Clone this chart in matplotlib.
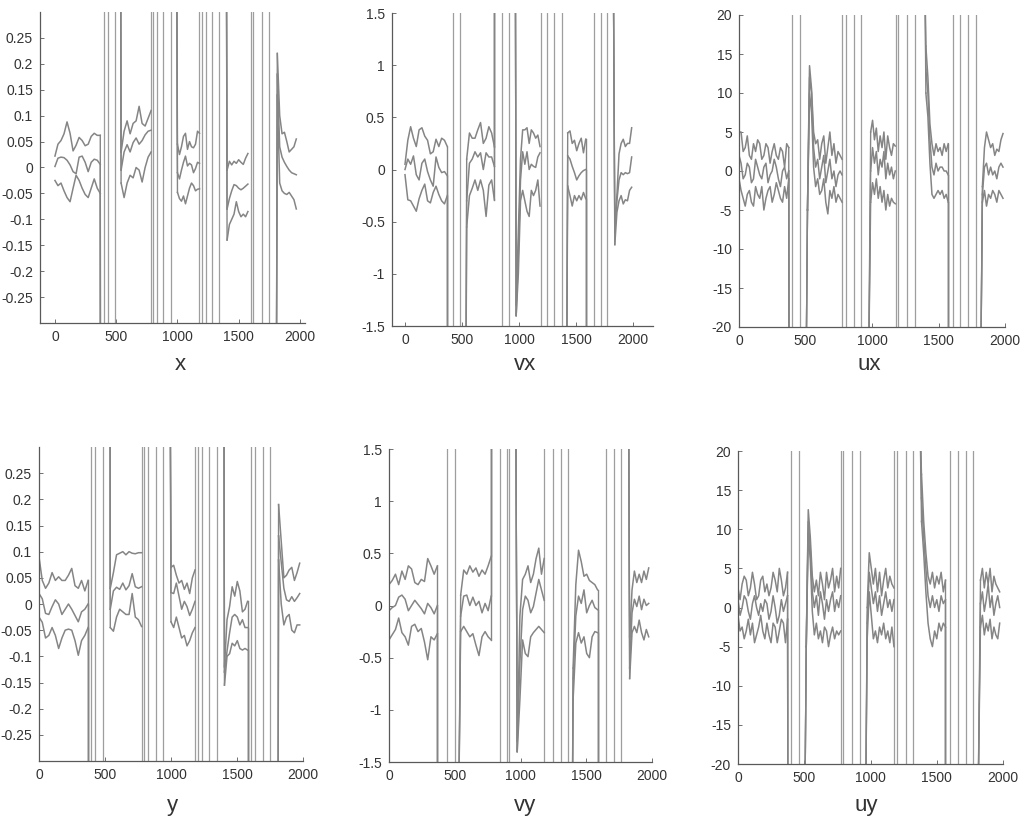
import numpy as np
import matplotlib
matplotlib.use('Agg')
import matplotlib.pyplot as plt
from matplotlib.ticker import FuncFormatter

plt.rcParams['font.family'] = ['Liberation Sans', 'DejaVu Sans']
plt.rcParams['axes.unicode_minus'] = False

# each panel: 5 segments of three traces (upper / mean / lower), sampled evenly
# between seg start and end; enter/exit = point off the axis the trace comes from / goes to;
# vlines = sample indices where the trace shoots across the whole range
x_start = [0, 540, 1000, 1405, 1815]
x_end = [370, 785, 1180, 1575, 1970]
x_upper = [
    [0.022, 0.045, 0.052, 0.065, 0.088, 0.066, 0.032, 0.043, 0.058, 0.052, 0.042, 0.045, 0.06, 0.066, 0.062, 0.062],
    [0.03, 0.07, 0.09, 0.065, 0.085, 0.09, 0.118, 0.085, 0.08, 0.095, 0.11],
    [0.045, 0.025, 0.04, 0.06, 0.066, 0.035, 0.05, 0.04, 0.038, 0.045, 0.07, 0.066],
    [-0.005, 0.012, 0.005, 0.012, 0.008, 0.015, 0.01, 0.006, 0.018, 0.027],
    [0.22, 0.1, 0.065, 0.068, 0.05, 0.03, 0.035, 0.04, 0.055],
]
x_mean = [
    [0.002, 0.018, 0.02, 0.019, 0.014, 0.005, -0.008, -0.012, 0.02, 0.022, 0.01, -0.008, 0.01, 0.016, 0.014, 0.006],
    [-0.005, 0.03, 0.044, 0.03, 0.048, 0.057, 0.045, 0.052, 0.063, 0.07, 0.072],
    [-0.01, -0.022, -0.005, 0.01, 0.022, 0.003, 0.008, 0.005, -0.01, -0.002, 0.01, 0.008],
    [-0.08, -0.06, -0.045, -0.033, -0.035, -0.04, -0.043, -0.04, -0.036, -0.032],
    [0.18, 0.04, 0.02, 0.01, 0.002, -0.005, -0.01, -0.012, -0.014],
]
x_lower = [
    [-0.025, -0.035, -0.03, -0.045, -0.058, -0.066, -0.04, -0.015, -0.025, -0.04, -0.052, -0.058, -0.04, -0.022, -0.04, -0.05],
    [-0.03, -0.058, -0.03, -0.015, -0.02, 0.0, -0.005, -0.028, 0.0, 0.02, 0.03],
    [-0.048, -0.06, -0.065, -0.055, -0.07, -0.055, -0.04, -0.03, -0.035, -0.045, -0.042, -0.041],
    [-0.14, -0.11, -0.1, -0.09, -0.066, -0.085, -0.095, -0.09, -0.095, -0.085],
    [0.14, -0.03, -0.045, -0.05, -0.052, -0.048, -0.055, -0.062, -0.08],
]
x_enter = [None, (531, 1.0), (985, 1.0), (1393, 1.0), (1800, -1.0)]
x_exit = [(373, -1.0), None, None, None, None]
x_vlines = [403, 430, 490, 784, 803, 830, 884, 944, 1178, 1197, 1233, 1279, 1339, 1600, 1619, 1693, 1750]

vx_start = [0, 541, 975, 1427, 1840]
vx_end = [371, 784, 1184, 1585, 1988]
vx_upper = [
    [0.05, 0.28, 0.41, 0.3, 0.22, 0.38, 0.4, 0.32, 0.28, 0.15, 0.17, 0.29, 0.22, 0.3, 0.28, 0.22],
    [0.1, 0.35, 0.3, 0.3, 0.38, 0.45, 0.25, 0.3, 0.41, 0.35, 0.22],
    [-1.3, -0.6, 0.1, 0.38, 0.38, 0.4, 0.25, 0.38, 0.35, 0.3, 0.33, 0.22],
    [0.35, 0.37, 0.25, 0.28, 0.18, 0.25, 0.3, 0.16, 0.29],
    [-0.5, -0.25, 0.15, 0.25, 0.29, 0.22, 0.25, 0.25, 0.4],
]
vx_mean = [
    [0.0, 0.1, 0.05, 0.13, -0.05, -0.1, 0.06, 0.1, -0.02, -0.1, -0.16, 0.12, 0.02, -0.03, -0.02, -0.06],
    [-0.3, 0.06, 0.1, 0.17, 0.12, 0.16, 0.0, 0.16, 0.12, 0.12, 0.03],
    [-1.4, -0.8, -0.1, 0.17, 0.05, 0.17, 0.0, 0.05, 0.03, 0.02, 0.12, 0.16],
    [0.13, 0.1, 0.03, -0.03, -0.1, -0.06, -0.03, -0.01, 0.0],
    [-0.6, -0.3, -0.1, -0.03, -0.05, -0.03, -0.04, -0.03, 0.12],
]
vx_lower = [
    [-0.05, -0.29, -0.3, -0.35, -0.4, -0.28, -0.2, -0.14, -0.3, -0.32, -0.22, -0.16, -0.24, -0.3, -0.33, -0.25],
    [-0.55, -0.25, -0.18, -0.1, -0.2, -0.1, -0.2, -0.45, -0.15, -0.1, -0.29],
    [-1.4, -1.0, -0.3, -0.2, -0.3, -0.4, -0.45, -0.2, -0.25, -0.2, -0.1, -0.35],
    [-0.16, -0.25, -0.35, -0.25, -0.3, -0.25, -0.29, -0.22, -0.28],
    [-0.72, -0.41, -0.3, -0.25, -0.33, -0.29, -0.3, -0.2, -0.17],
]
vx_enter = [None, (535, -2.0), (968, 2.0), (1418, -2.0), (1827, 2.0)]
vx_exit = [(371, -2.0), (784, 2.0), None, (1585, -2.0), None]
vx_vlines = [418, 482, 854, 912, 1190, 1248, 1310, 1374, 1658, 1716, 1769]

ux_start = [0, 515, 990, 1405, 1830]
ux_end = [374, 775, 1175, 1573, 1985]
ux_upper = [
    [5.0, 5.0, 2.5, 3.0, 4.5, 2.0, 1.5, 3.5, 2.5, 4.0, 3.5, 1.5, 2.0, 3.5, 3.0, 1.0, 2.5, 3.5, 2.0, 1.5, 3.0, 2.5, 0.5, 3.5, 3.0],
    [-5.0, 13.5, 10.5, 5.0, 3.5, 4.0, 1.5, 3.5, 4.5, 1.0, 3.0, 5.0, 2.0, 3.5, 1.0, 2.5, 2.0, 1.5],
    [5.0, 6.5, 4.0, 5.5, 2.5, 4.5, 3.0, 5.0, 1.5, 4.5, 3.0, 2.0, 3.5, 3.2],
    [16.0, 12.0, 6.0, 3.5, 2.0, 3.5, 2.5, 3.0, 2.0, 3.5, 2.5, 3.5],
    [-2.0, 3.0, 5.0, 4.0, 3.0, 3.5, 2.0, 2.8, 2.5, 4.0, 4.8],
]
ux_mean = [
    [2.0, 1.0, -1.0, -0.5, 1.0, 0.5, -1.5, -1.0, 1.5, 0.5, -0.5, -1.0, 0.5, 1.0, -1.5, -0.5, 0.0, 1.5, 0.5, -1.0, -2.0, 0.0, 0.5, -1.0, 0.0],
    [-5.0, 12.0, 10.0, 3.0, 0.5, 1.5, -1.0, 0.5, 2.0, -1.5, 0.0, 1.5, -1.0, 0.0, -2.0, -0.5, 0.0, -0.5],
    [0.0, 3.0, 1.0, 2.5, -0.5, 1.5, 0.5, 2.5, -1.0, 1.0, -0.5, 0.5, -1.0, 0.0],
    [13.0, 10.0, 4.0, 0.5, -0.5, 1.0, 0.0, 0.5, 0.5, 0.0, 0.0, -0.5],
    [-3.0, 0.5, 1.0, -0.5, 0.5, -0.5, 0.0, -1.0, 0.5, 1.0, 0.5],
]
ux_lower = [
    [-1.0, -2.5, -3.5, -4.5, -3.0, -2.5, -4.0, -4.5, -2.0, -3.0, -3.5, -2.0, -5.0, -3.5, -2.5, -2.0, -4.0, -3.0, -1.5, -2.5, -3.5, -4.0, -2.0, -3.5, -1.0],
    [-5.0, 10.0, 7.5, 0.5, -2.0, -1.0, -3.0, -2.5, -1.0, -4.0, -5.5, -2.5, -3.5, -2.0, -4.0, -3.0, -3.5, -4.0],
    [-4.0, -1.5, -3.0, -1.0, -3.5, -2.0, -4.0, -2.5, -5.0, -3.0, -4.5, -3.5, -4.0, -4.2],
    [10.0, 7.0, 1.0, -3.0, -3.5, -3.0, -2.5, -3.0, -2.5, -3.5, -3.0, -4.0],
    [-4.0, -2.5, -4.5, -3.0, -3.5, -2.5, -3.0, -4.0, -2.5, -3.0, -3.5],
]
ux_enter = [None, (505, -25.0), (975, -25.0), (1398, 25.0), (1818, -25.0)]
ux_exit = [(376, -25.0), None, None, (1573, -25.0), None]
ux_vlines = [399, 462, 775, 803, 863, 921, 1177, 1197, 1265, 1327, 1606, 1661, 1724, 1782]

y_start = [0, 540, 1000, 1405, 1815]
y_end = [372, 777, 1182, 1580, 1975]
y_upper = [
    [0.09, 0.045, 0.03, 0.04, 0.06, 0.045, 0.052, 0.045, 0.045, 0.055, 0.068, 0.035, 0.03, 0.045, 0.025, 0.045],
    [0.03, 0.06, 0.094, 0.097, 0.1, 0.094, 0.1, 0.097, 0.096, 0.098, 0.098],
    [0.07, 0.074, 0.055, 0.04, 0.045, 0.028, 0.04, 0.02, 0.05, 0.065],
    [-0.12, -0.03, -0.005, 0.033, 0.015, 0.043, 0.025, -0.015, -0.01, 0.005],
    [0.19, 0.12, 0.05, 0.055, 0.065, 0.07, 0.045, 0.06, 0.078],
]
y_mean = [
    [0.02, 0.01, -0.018, -0.02, -0.005, 0.008, 0.0, -0.02, -0.01, 0.0, -0.01, -0.022, -0.034, -0.015, -0.01, 0.0],
    [-0.01, 0.025, 0.032, 0.028, 0.04, 0.027, 0.035, 0.058, 0.033, 0.03, 0.033],
    [0.022, 0.02, 0.04, 0.015, -0.01, 0.005, -0.005, -0.022, -0.01, 0.005],
    [-0.13, -0.09, -0.055, -0.025, -0.02, -0.025, -0.04, -0.03, -0.045, -0.045],
    [0.13, 0.08, 0.03, 0.008, 0.005, 0.014, 0.005, 0.012, 0.02],
]
y_lower = [
    [-0.025, -0.035, -0.065, -0.06, -0.045, -0.06, -0.085, -0.065, -0.05, -0.048, -0.05, -0.07, -0.098, -0.07, -0.06, -0.045],
    [-0.045, -0.052, -0.025, -0.01, -0.015, -0.02, -0.02, 0.02, -0.025, -0.03, -0.043],
    [-0.034, -0.045, -0.025, -0.045, -0.065, -0.06, -0.08, -0.07, -0.055, -0.045],
    [-0.155, -0.1, -0.095, -0.075, -0.08, -0.07, -0.085, -0.088, -0.085, -0.088],
    [0.084, 0.0, -0.04, -0.025, -0.02, -0.05, -0.055, -0.04, -0.04],
]
y_enter = [None, (537, 1.0), (985, 1.0), (1397, 1.0), (1808, -1.0)]
y_exit = [(372, -1.0), None, None, (1580, -1.0), None]
y_vlines = [397, 428, 486, 777, 797, 823, 886, 942, 1182, 1203, 1233, 1289, 1347, 1605, 1638, 1696, 1752]

vy_start = [0, 545, 975, 1400, 1830]
vy_end = [368, 777, 1180, 1586, 1975]
vy_upper = [
    [0.2, 0.24, 0.3, 0.2, 0.33, 0.25, 0.38, 0.35, 0.22, 0.2, 0.25, 0.23, 0.45, 0.38, 0.3, 0.38],
    [0.1, 0.34, 0.3, 0.38, 0.32, 0.36, 0.28, 0.34, 0.3, 0.38, 0.47],
    [-1.4, -0.1, 0.25, 0.3, 0.38, 0.22, 0.3, 0.45, 0.55, 0.3, 0.45],
    [-0.6, 0.2, 0.53, 0.42, 0.28, 0.3, 0.24, 0.22, 0.2, 0.15],
    [-0.3, 0.15, 0.33, 0.22, 0.3, 0.22, 0.33, 0.25, 0.36],
]
vy_mean = [
    [-0.05, -0.02, 0.0, 0.08, 0.1, 0.06, -0.05, 0.0, 0.05, 0.01, -0.03, -0.08, 0.02, -0.02, -0.08, 0.0],
    [-0.1, 0.09, 0.1, 0.0, 0.08, 0.0, 0.04, -0.07, 0.02, -0.05, 0.09],
    [-1.3, -0.55, -0.04, 0.09, 0.05, -0.07, -0.01, 0.12, 0.25, 0.15, 0.05],
    [-0.7, -0.1, 0.09, 0.02, 0.15, -0.07, 0.0, 0.05, -0.02, -0.04],
    [-0.6, -0.07, 0.06, -0.01, 0.09, -0.04, 0.06, 0.0, 0.02],
]
vy_lower = [
    [-0.33, -0.28, -0.23, -0.12, -0.26, -0.3, -0.38, -0.2, -0.18, -0.25, -0.22, -0.35, -0.52, -0.3, -0.33, -0.27],
    [-0.25, -0.2, -0.25, -0.3, -0.27, -0.38, -0.48, -0.3, -0.25, -0.3, -0.33],
    [-1.4, -0.9, -0.33, -0.46, -0.49, -0.3, -0.26, -0.23, -0.2, -0.23, -0.26],
    [-0.9, -0.36, -0.26, -0.36, -0.3, -0.46, -0.5, -0.3, -0.25, -0.26],
    [-0.7, -0.26, -0.2, -0.26, -0.14, -0.26, -0.33, -0.23, -0.3],
]
vy_enter = [None, (530, -2.0), (964, 2.0), (1394, -2.0), (1822, 2.0)]
vy_exit = [(368, -2.0), (777, 2.0), None, (1586, -2.0), None]
vy_vlines = [444, 503, 845, 896, 910, 1180, 1246, 1307, 1365, 1650, 1708, 1766]

uy_start = [0, 515, 975, 1385, 1830]
uy_end = [374, 775, 1177, 1566, 1975]
uy_upper = [
    [2.5, 1.0, 3.0, 4.0, 3.5, 1.5, 2.5, 4.5, 3.0, 1.0, 1.5, 3.5, 4.0, 2.0, 3.0, 1.5, 2.5, 4.5, 3.5, 2.0, 5.0, 3.5, 1.5, 2.5, 4.5],
    [-5.0, 12.5, 9.0, 4.0, 2.0, 3.5, 1.5, 4.5, 3.0, 1.0, 4.5, 2.5, 3.5, 5.0, 2.0, 4.0, 2.5, 5.0],
    [0.0, 7.0, 5.0, 3.0, 5.0, 2.0, 4.5, 1.5, 3.5, 5.0, 2.5, 4.0, 3.0, 2.5],
    [17.0, 11.0, 7.0, 4.0, 3.0, 4.5, 2.5, 4.0, 3.0, 4.5, 2.0, 3.5],
    [3.5, 5.0, 2.5, 4.5, 3.0, 5.0, 2.0, 4.0, 3.0, 2.5, 2.0],
]
uy_mean = [
    [1.0, -1.0, 0.0, 1.5, 1.0, -0.5, -1.5, 0.5, 1.5, 0.0, -1.0, 0.5, -0.5, 1.0, 0.5, -1.5, -0.5, 1.5, 0.0, -2.0, -1.0, 1.0, -0.5, 0.5, 1.5],
    [-5.0, 11.0, 7.5, 2.0, 0.0, 1.5, -1.0, 2.0, 0.5, -1.5, 1.0, -0.5, 1.0, 2.0, -0.5, 1.0, 0.0, 1.5],
    [-2.0, 4.5, 2.5, 0.5, 2.0, -0.5, 1.5, -1.0, 0.5, 2.0, 0.0, 1.0, -0.5, 1.0],
    [14.0, 9.0, 5.0, 1.5, 0.0, 1.5, 0.0, 1.0, -0.5, 1.5, 0.5, 1.0],
    [0.5, 2.0, -0.5, 1.0, 3.0, 0.0, 1.5, -1.0, 0.5, 1.5, 0.0],
]
uy_lower = [
    [-1.0, -3.0, -2.5, -4.0, -3.0, -1.5, -3.5, -2.0, -4.5, -3.5, -2.5, -1.0, -3.0, -4.0, -2.0, -3.5, -4.5, -2.0, -2.5, -4.5, -3.0, -1.5, -2.0, -4.5, -1.5],
    [-5.0, 9.5, 6.0, -0.5, -3.5, -2.0, -4.0, -3.0, -4.5, -2.5, -3.0, -5.0, -3.5, -2.5, -4.0, -3.0, -3.5, -3.0],
    [-4.0, 2.0, -1.0, -4.0, -3.0, -4.5, -2.5, -3.5, -2.0, -4.0, -3.0, -4.5, -2.5, -5.0],
    [11.0, 7.0, 2.0, -2.0, -4.0, -5.0, -3.0, -4.0, -2.0, -3.0, -2.0, -2.5],
    [-2.5, -1.0, -3.5, -2.0, -3.0, -1.5, -4.0, -2.5, -3.5, -4.0, -2.0],
]
uy_enter = [None, (505, -25.0), (964, -25.0), (1373, 25.0), (1812, -25.0)]
uy_exit = [(376, -25.0), None, None, (1566, -25.0), None]
uy_vlines = [401, 462, 775, 795, 858, 921, 1177, 1197, 1265, 1322, 1598, 1661, 1719, 1774]

xticks = [0, 500, 1000, 1500, 2000]
pos_ticks = [-0.25, -0.2, -0.15, -0.1, -0.05, 0, 0.05, 0.1, 0.15, 0.2, 0.25]
vel_ticks = [-1.5, -1, -0.5, 0, 0.5, 1, 1.5]
u_ticks = [-20, -15, -10, -5, 0, 5, 10, 15, 20]

W, H = 1022, 822
LINE = '0.52'
VLINE = '0.62'
fig = plt.figure(figsize=(W / 100, H / 100), dpi=100)


def panel(box, xlim, ylim, yticks, label, label_xy,
          starts, ends, upper, mean, lower, enter, leave, vlines):
    left, top, right, bottom = box
    ax = fig.add_axes([left / W, 1 - bottom / H, (right - left) / W, (bottom - top) / H])
    for xv in vlines:
        ax.axvline(xv, color=VLINE, lw=0.9)
    for i in range(len(starts)):
        for vals in (upper[i], mean[i], lower[i]):
            xs = np.linspace(starts[i], ends[i], len(vals))
            ax.plot(xs, vals, color=LINE, lw=1.1)
            if enter[i] is not None:
                ax.plot([enter[i][0], xs[0]], [enter[i][1], vals[0]], color=LINE, lw=1.0)
            if leave[i] is not None:
                ax.plot([xs[-1], leave[i][0]], [vals[-1], leave[i][1]], color=LINE, lw=1.0)
    ax.set_xlim(*xlim)
    ax.set_ylim(*ylim)
    ax.set_xticks(xticks)
    ax.set_yticks(yticks)
    ax.yaxis.set_major_formatter(FuncFormatter(lambda v, _: f'{v:g}'))
    for s in ('top', 'right'):
        ax.spines[s].set_visible(False)
    for s in ('left', 'bottom'):
        ax.spines[s].set_color('0.35')
        ax.spines[s].set_linewidth(0.9)
    ax.tick_params(direction='in', length=3, width=0.6, colors='0.35',
                   labelsize=10, labelcolor='0.2', pad=5)
    fig.text(label_xy[0] / W, 1 - label_xy[1] / H, label, fontsize=16,
             color='0.2', ha='center', va='center')
    return ax


panel((40, 12, 305, 323), (-122, 2041), (-0.3, 0.3), pos_ticks, 'x', (180, 365),
      x_start, x_end, x_upper, x_mean, x_lower, x_enter, x_exit, x_vlines)
panel((392, 13, 653, 326), (-114, 2175), (-1.5, 1.5), vel_ticks, 'vx', (525, 365),
      vx_start, vx_end, vx_upper, vx_mean, vx_lower, vx_enter, vx_exit, vx_vlines)
panel((739, 15, 1005, 327), (0, 2000), (-20, 20), u_ticks, 'ux', (869, 365),
      ux_start, ux_end, ux_upper, ux_mean, ux_lower, ux_enter, ux_exit, ux_vlines)
panel((39, 447, 303, 761), (0, 2000), (-0.3, 0.3), pos_ticks, 'y', (172, 805),
      y_start, y_end, y_upper, y_mean, y_lower, y_enter, y_exit, y_vlines)
panel((389, 449, 652, 762), (0, 2000), (-1.5, 1.5), vel_ticks, 'vy', (525, 805),
      vy_start, vy_end, vy_upper, vy_mean, vy_lower, vy_enter, vy_exit, vy_vlines)
panel((738, 451, 1003, 764), (0, 2000), (-20, 20), u_ticks, 'uy', (866, 805),
      uy_start, uy_end, uy_upper, uy_mean, uy_lower, uy_enter, uy_exit, uy_vlines)

fig.savefig('out.png', dpi=100, facecolor='white')
